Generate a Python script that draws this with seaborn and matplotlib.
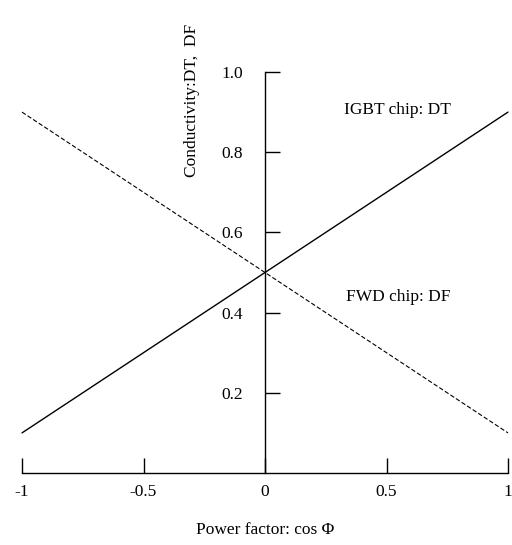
import numpy as np
import pandas as pd
import matplotlib
matplotlib.use("Agg")
import matplotlib.pyplot as plt
import seaborn as sns

# data
power_factor = [-1, 1]
igbt_dt = [0.1, 0.9]
fwd_df = [0.9, 0.1]
x_ticks = [-1, -0.5, 0, 0.5, 1]
x_tick_labels = ['-1', '-0.5', '0', '0.5', '1']
y_ticks = [0.2, 0.4, 0.6, 0.8, 1.0]
y_tick_labels = ['0.2', '0.4', '0.6', '0.8', '1.0']

sns.set_style('white')
plt.rcParams['font.family'] = ['Liberation Serif', 'DejaVu Sans']
plt.rcParams['font.size'] = 12.5
plt.rcParams['text.color'] = 'black'

df = pd.DataFrame({'x': power_factor, 'dt': igbt_dt, 'df': fwd_df})

fig = plt.figure(figsize=(5.12, 5.45), dpi=100)
ax = fig.add_axes([22 / 512, 72 / 545, 486 / 512, 401 / 545])

sns.lineplot(data=df, x='x', y='dt', ax=ax, color='black', lw=1.0, clip_on=False)
sns.lineplot(data=df, x='x', y='df', ax=ax, color='black', lw=0.8,
             linestyle=(0, (4, 2)), clip_on=False)

ax.set_xlim(-1, 1)
ax.set_ylim(0, 1)

ax.spines['top'].set_visible(False)
ax.spines['right'].set_visible(False)
ax.spines['left'].set_position(('data', 0))
ax.spines['left'].set_bounds(0, 1)
ax.spines['bottom'].set_position(('data', 0))
for s in ['left', 'bottom']:
    ax.spines[s].set_color('black')
    ax.spines[s].set_linewidth(1.0)

ax.set_xticks(x_ticks)
ax.set_xticklabels(x_tick_labels)
ax.set_yticks(y_ticks)
ax.set_yticklabels(y_tick_labels)
ax.tick_params(axis='x', bottom=True, direction='in', length=11, width=1.0, pad=8,
               colors='black')
ax.tick_params(axis='y', left=True, direction='in', length=11, width=1.0, pad=16,
               colors='black')

ax.set_xlabel('')
ax.set_ylabel('')

ax.text(0.547, 0.905, 'IGBT chip: DT', ha='center', va='center')
ax.text(0.547, 0.44, 'FWD chip: DF', ha='center', va='center')

fig.text(265 / 512, 1 - 530 / 545, 'Power factor: cos Φ', ha='center', va='center')
fig.text(192 / 512, 1 - 100 / 545, 'Conductivity:DT,  DF', ha='center', va='center',
         rotation=90)

fig.savefig('out.png', dpi=100, facecolor='white')
